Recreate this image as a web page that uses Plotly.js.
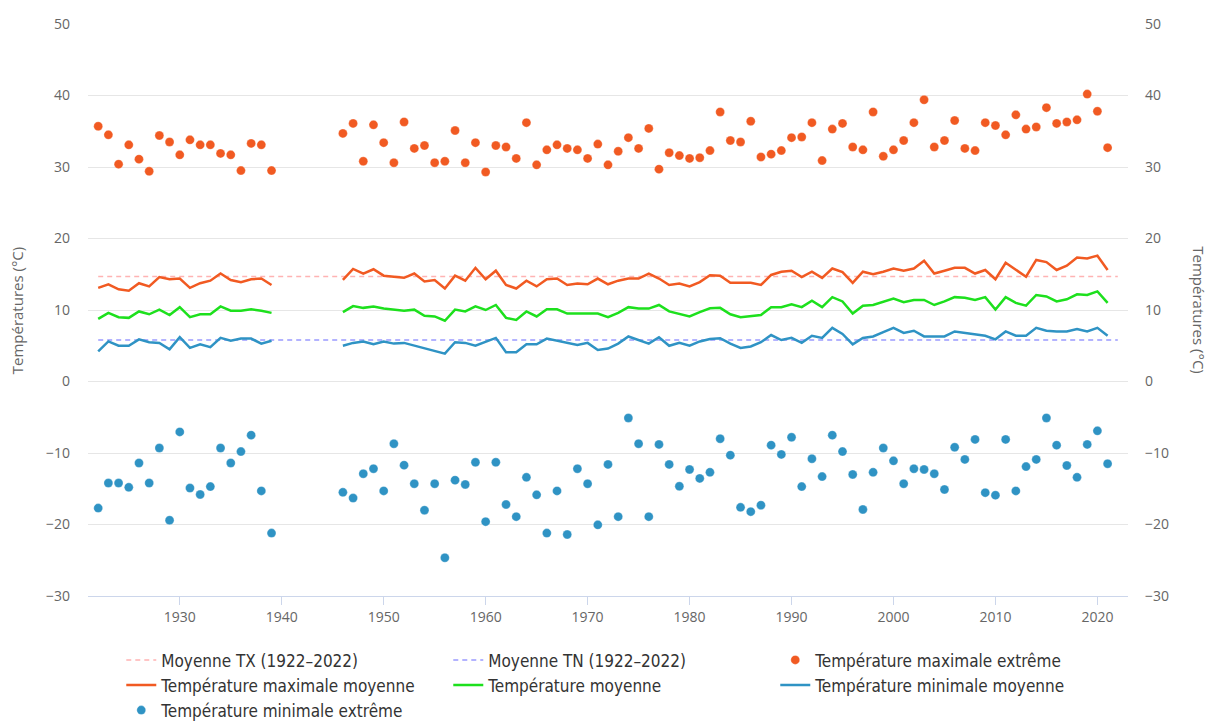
<!DOCTYPE html>
<html>
<head>
<meta charset="utf-8">
<script src="https://cdn.plot.ly/plotly-3.0.1.min.js"></script>
<style>html,body{margin:0;padding:0;background:#fff;}#chart{width:1211px;height:722px;}</style>
</head>
<body>
<div id="chart"></div>
<script>
// Years (null row at 1940 breaks the lines for the 1940–1945 gap)
const years = [1922,1923,1924,1925,1926,1927,1928,1929,1930,1931,1932,1933,1934,1935,1936,1937,1938,1939,1940,
  1946,1947,1948,1949,1950,1951,1952,1953,1954,1955,1956,1957,1958,1959,1960,1961,1962,1963,1964,1965,1966,1967,1968,1969,
  1970,1971,1972,1973,1974,1975,1976,1977,1978,1979,1980,1981,1982,1983,1984,1985,1986,1987,1988,1989,1990,1991,1992,1993,
  1994,1995,1996,1997,1998,1999,2000,2001,2002,2003,2004,2005,2006,2007,2008,2009,2010,2011,2012,2013,2014,2015,2016,2017,
  2018,2019,2020,2021];

const txExtreme = [35.7,34.5,30.4,33.1,31.1,29.4,34.4,33.5,31.7,33.8,33.1,33.1,31.9,31.7,29.5,33.3,33.1,29.5,null,
  34.7,36.1,30.8,35.9,33.4,30.6,36.3,32.6,33.0,30.6,30.8,35.1,30.6,33.4,29.3,33.0,32.8,31.2,36.2,30.3,32.4,33.1,32.6,32.4,
  31.2,33.2,30.3,32.2,34.1,32.6,35.4,29.7,32.0,31.6,31.2,31.3,32.3,37.7,33.7,33.5,36.4,31.4,31.8,32.3,34.1,34.2,36.2,30.9,
  35.3,36.1,32.8,32.4,37.7,31.5,32.4,33.7,36.2,39.4,32.8,33.7,36.5,32.6,32.3,36.2,35.8,34.5,37.3,35.3,35.6,38.3,36.1,36.3,
  36.6,40.2,37.8,32.7];

const txMean = [13.1,13.6,12.9,12.7,13.75,13.3,14.6,14.3,14.4,13.1,13.75,14.1,15.1,14.2,13.9,14.3,14.4,13.5,null,
  14.2,15.75,15.1,15.7,14.8,14.7,14.5,15.1,14.0,14.2,13.0,14.8,14.1,15.9,14.3,15.5,13.5,13.0,14.1,13.3,14.3,14.4,13.5,13.7,
  13.6,14.4,13.6,14.1,14.4,14.4,15.1,14.4,13.5,13.7,13.3,13.9,14.85,14.8,13.8,13.8,13.8,13.5,14.9,15.35,15.5,14.6,15.35,14.5,
  15.8,15.3,13.8,15.35,15.0,15.35,15.8,15.5,15.8,16.9,15.1,15.5,15.9,15.9,15.1,15.6,14.3,16.6,15.6,14.65,17.0,16.7,15.6,16.2,
  17.35,17.2,17.6,15.6];

const tMean = [8.75,9.6,9.0,8.9,9.8,9.4,10.05,9.3,10.4,9.0,9.4,9.4,10.5,9.9,9.9,10.1,9.9,9.6,null,
  9.7,10.55,10.3,10.5,10.2,10.0,9.9,10.05,9.2,9.1,8.5,10.05,9.8,10.5,10.0,10.7,8.9,8.6,9.8,9.1,10.1,10.1,9.5,9.5,
  9.5,9.5,9.0,9.6,10.4,10.2,10.2,10.7,9.8,9.5,9.1,9.7,10.25,10.3,9.4,9.0,9.1,9.3,10.4,10.4,10.8,10.4,11.3,10.4,
  11.8,11.2,9.5,10.6,10.7,11.1,11.6,11.1,11.4,11.4,10.7,11.2,11.8,11.7,11.4,11.8,10.05,11.8,11.0,10.6,12.1,11.9,11.2,11.5,
  12.2,12.1,12.6,11.0];

const tnMean = [4.2,5.6,5.0,5.0,5.9,5.5,5.4,4.5,6.2,4.7,5.2,4.8,6.1,5.7,6.0,6.0,5.3,5.7,null,
  5.0,5.4,5.6,5.2,5.6,5.3,5.4,5.0,4.7,4.3,3.9,5.5,5.4,5.0,5.6,6.1,4.1,4.1,5.2,5.2,6.0,5.7,5.4,5.1,
  5.4,4.4,4.6,5.3,6.3,5.8,5.3,6.2,5.0,5.4,5.0,5.6,5.95,6.05,5.3,4.7,4.9,5.5,6.5,5.8,6.1,5.4,6.4,6.1,
  7.5,6.65,5.2,6.1,6.3,6.9,7.5,6.8,7.1,6.3,6.3,6.3,7.0,6.8,6.5,6.4,5.9,7.0,6.4,6.4,7.5,7.1,7.0,7.0,
  7.35,7.0,7.5,6.4];

const tnExtreme = [-17.7,-14.2,-14.2,-14.8,-11.4,-14.2,-9.3,-19.4,-7.05,-14.9,-15.8,-14.7,-9.3,-11.4,-9.8,-7.5,-15.3,-21.2,null,
  -15.5,-16.3,-12.9,-12.2,-15.3,-8.7,-11.7,-14.3,-18.0,-14.3,-24.65,-13.8,-14.4,-11.3,-19.6,-11.3,-17.2,-18.9,-13.4,-15.85,-21.2,-15.3,-21.4,-12.2,
  -14.3,-20.05,-11.6,-18.9,-5.1,-8.7,-18.9,-8.8,-11.6,-14.65,-12.3,-13.55,-12.7,-8.0,-10.3,-17.6,-18.2,-17.3,-8.9,-10.2,-7.8,-14.7,-10.8,-13.3,
  -7.5,-9.8,-13.0,-17.9,-12.7,-9.3,-11.1,-14.3,-12.2,-12.3,-12.9,-15.1,-9.2,-10.9,-8.1,-15.55,-15.9,-8.1,-15.3,-11.9,-10.9,-5.1,-8.9,-11.75,
  -13.4,-8.8,-6.9,-11.5];

// Reference period averages
const refYears = [1922, 2022];
const txRef = [14.7, 14.7];
const tnRef = [5.8, 5.8];

const names = {
  txRef: 'Moyenne TX (1922–2022)',
  tnRef: 'Moyenne TN (1922–2022)',
  txExt: 'Température maximale extrême',
  txMean: 'Température maximale moyenne',
  tMean: 'Température moyenne',
  tnMean: 'Température minimale moyenne',
  tnExt: 'Température minimale extrême'
};
const axisTitle = 'Températures (°C)';

const RED = '#f15a22', GREEN = '#1de01d', BLUE = '#2f93c4';

const traces = [
  {x: refYears, y: txRef, name: names.txRef, mode: 'lines', line: {color: '#ffb3b3', width: 1.5, dash: '5px,4px'}, hoverinfo: 'skip'},
  {x: refYears, y: tnRef, name: names.tnRef, mode: 'lines', line: {color: '#9a9aff', width: 1.5, dash: '5px,4px'}, hoverinfo: 'skip'},
  {x: years, y: txExtreme, name: names.txExt, mode: 'markers', marker: {color: RED, size: 9, line: {color: 'rgba(255,255,255,0.6)', width: 0.5}}},
  {x: years, y: txMean, name: names.txMean, mode: 'lines', line: {color: RED, width: 2.5}, connectgaps: false},
  {x: years, y: tMean, name: names.tMean, mode: 'lines', line: {color: GREEN, width: 2.5}, connectgaps: false},
  {x: years, y: tnMean, name: names.tnMean, mode: 'lines', line: {color: BLUE, width: 2.5}, connectgaps: false},
  {x: years, y: tnExtreme, name: names.tnExt, mode: 'markers', marker: {color: BLUE, size: 9, line: {color: 'rgba(255,255,255,0.6)', width: 0.5}}},
  {x: refYears, y: txRef, yaxis: 'y2', mode: 'lines', line: {width: 0, color: 'rgba(0,0,0,0)'}, showlegend: false, hoverinfo: 'skip'}
];

const tickFont = {family: 'Open Sans, sans-serif', size: 14, color: '#666666'};

const layout = {
  width: 1211, height: 722,
  margin: {l: 88, r: 83, t: 24, b: 126, autoexpand: false},
  paper_bgcolor: '#ffffff', plot_bgcolor: '#ffffff',
  showlegend: true,
  xaxis: {
    range: [1921, 2023], tickvals: [1930,1940,1950,1960,1970,1980,1990,2000,2010,2020],
    showgrid: false, zeroline: false, showline: true, linecolor: '#ccd6eb', linewidth: 1,
    ticks: 'outside', ticklen: 8, tickcolor: '#ccd6eb', tickfont: tickFont, automargin: false
  },
  yaxis: {
    range: [-30, 50], dtick: 10, tick0: 0, gridcolor: '#e6e6e6', gridwidth: 1, zeroline: false,
    showline: false, ticks: '', tickfont: tickFont, ticklabelstandoff: 17, automargin: false
  },
  yaxis2: {
    range: [-30, 50], dtick: 10, tick0: 0, overlaying: 'y', side: 'right', showgrid: false, zeroline: false,
    showline: false, ticks: '', tickfont: tickFont, ticklabelstandoff: 16, automargin: false
  },
  legend: {
    orientation: 'h', x: 0.032, xanchor: 'left', y: -0.081, yanchor: 'top',
    entrywidth: 282, entrywidthmode: 'pixels', tracegroupgap: 0, itemwidth: 30,
    font: {family: 'DejaVu Sans Condensed, DejaVu Sans, sans-serif', size: 17, color: '#333333'}
  },
  annotations: [
    {text: axisTitle, xref: 'paper', yref: 'paper', x: -0.068, y: 0.5, xanchor: 'center', yanchor: 'middle',
     textangle: -90, showarrow: false, font: {family: 'Open Sans, sans-serif', size: 15, color: '#666666'}},
    {text: axisTitle, xref: 'paper', yref: 'paper', x: 1.068, y: 0.5, xanchor: 'center', yanchor: 'middle',
     textangle: 90, showarrow: false, font: {family: 'Open Sans, sans-serif', size: 15, color: '#666666'}}
  ]
};

Plotly.newPlot('chart', traces, layout, {displayModeBar: false, responsive: false});
</script>
</body>
</html>
